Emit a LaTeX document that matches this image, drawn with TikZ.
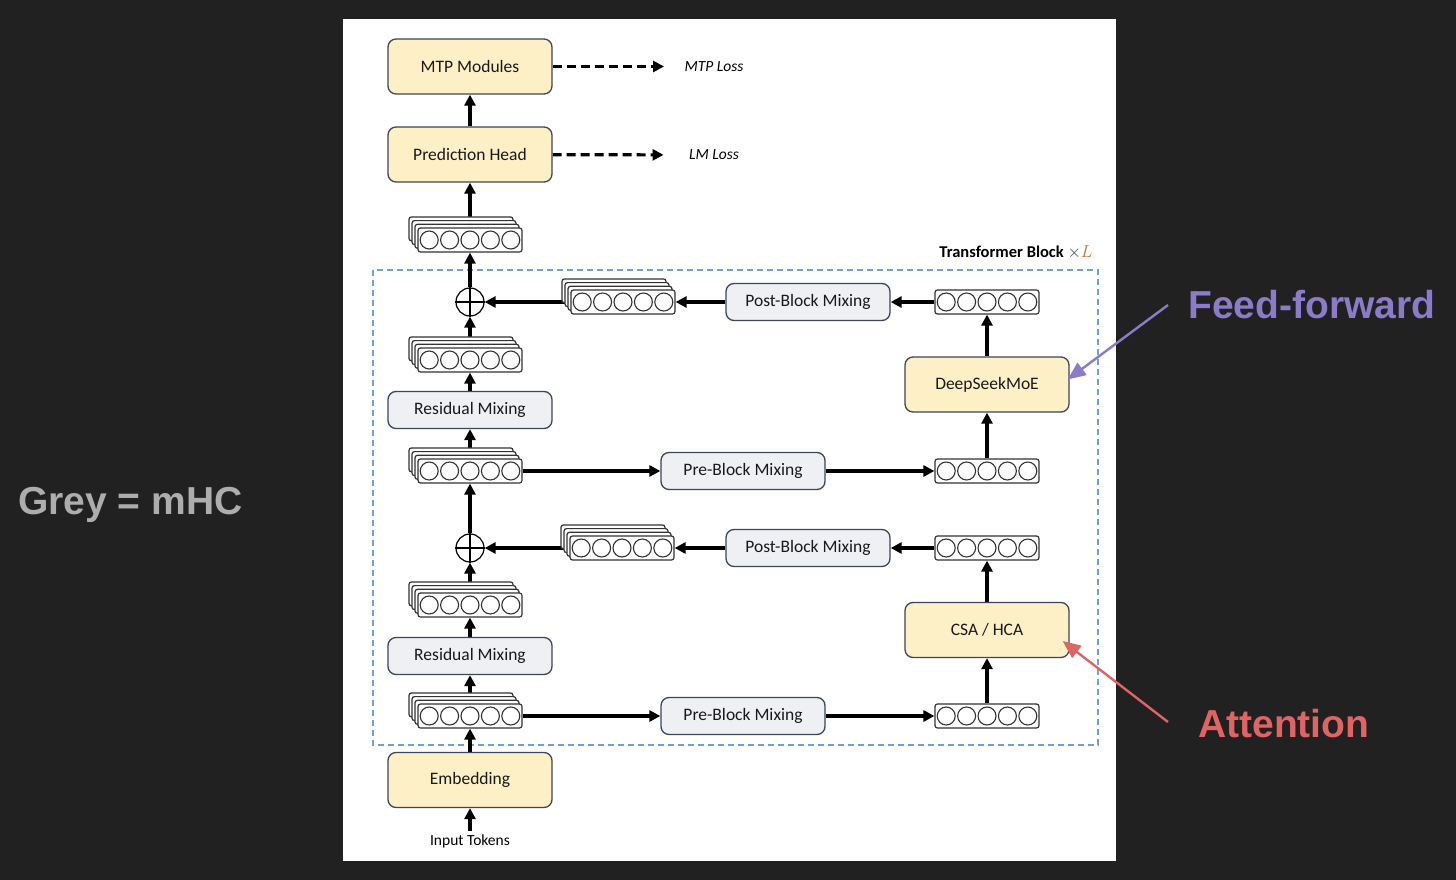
\documentclass[tikz,border=0pt]{standalone}
\usepackage{fontspec}
\setmainfont{Carlito}
\newfontfamily\annofont{Liberation Sans}
\usetikzlibrary{arrows.meta}

\definecolor{bgdark}{HTML}{212121}
\definecolor{coreyellow}{HTML}{FDF0C7}
\definecolor{mixgrey}{HTML}{EEF0F4}
\definecolor{boxline}{HTML}{3B4658}
\definecolor{blockblue}{HTML}{6FA1D9}
\definecolor{lcolor}{HTML}{C2702E}
\definecolor{ffpurple}{HTML}{8B7BC9}
\definecolor{attnred}{HTML}{E06464}
\definecolor{mhcgrey}{HTML}{ADADAD}

\pgfdeclarelayer{panel}
\pgfdeclarelayer{links}
\pgfsetlayers{panel,links,main}

\newcommand{\boxfont}{\fontsize{17.5}{20}\selectfont}

% one hidden-state vector: a box with five circles
\newcommand{\vecrow}[3]{%
  \node[vecbox] (#1) at (#2,#3) {};
  \foreach \k in {-2,...,2}
    \draw[line width=1.1pt,black!80] ([xshift=\k*20.4pt]#1.center) circle[radius=9pt];
}
% n parallel streams: three layers behind the front vector
\newcommand{\vecstack}[3]{%
  \foreach \s in {3,2,1}
    \node[vecbox] at (#2-3*\s,#3-3.7*\s) {};
  \vecrow{#1}{#2}{#3}
}

\begin{document}
\begin{tikzpicture}[x=1pt,y=-1pt,>={Triangle[length=11pt,width=11pt]},
    flow/.style={->,line width=3.4pt},
    loss/.style={->,line width=3.2pt,dash pattern=on 9pt off 5pt},
    core/.style={draw=boxline,fill=coreyellow,rounded corners=8pt,line width=1.3pt,
      minimum width=164pt,minimum height=55pt,font=\boxfont,text=black!90},
    mix/.style={core,fill=mixgrey,minimum height=37pt},
    vecbox/.style={draw=black!80,fill=white,rounded corners=2.5pt,line width=1.2pt,
      minimum width=104pt,minimum height=24pt,inner sep=0pt},
    plus/.style={circle,draw,fill=white,line width=1.2pt,minimum size=28pt,inner sep=0pt},
    anno/.style={font=\annofont\bfseries\fontsize{39}{44}\selectfont,inner sep=0pt,anchor=west},
    annoarrow/.style={-{Triangle[length=18pt,width=15pt]},line width=2.4pt}]

  \begin{pgfonlayer}{panel}
    \fill[bgdark] (0,0) rectangle (1456,880);
    \fill[white] (343,19) rectangle (1116,861);
    \draw[blockblue,line width=1.2pt,dash pattern=on 6pt off 4pt] (373,270) rectangle (1098,745);
  \end{pgfonlayer}

  % left column
  \node[core] (mtp) at (470,66.5) {MTP Modules};
  \node[core] (head) at (470,154.5) {Prediction Head};
  \vecstack{so}{470}{240}
  \node[plus] (sum1) at (470,302) {};
  \draw[line width=1.2pt] (sum1.north) -- (sum1.south) (sum1.west) -- (sum1.east);
  \vecstack{sa}{470}{360}
  \node[mix] (rmix1) at (470,410) {Residual Mixing};
  \vecstack{sb}{470}{471}
  \node[plus] (sum2) at (470,548) {};
  \draw[line width=1.2pt] (sum2.north) -- (sum2.south) (sum2.west) -- (sum2.east);
  \vecstack{sc}{470}{605}
  \node[mix] (rmix2) at (470,656) {Residual Mixing};
  \vecstack{sd}{470}{716}
  \node[core] (embed) at (470,780) {Embedding};
  \node[font=\fontsize{15.5}{18}\selectfont] (itok) at (470,841) {Input Tokens};

  \node[font=\itshape\fontsize{15.5}{18}\selectfont] (mtploss) at (714,66.5) {MTP Loss};
  \node[font=\itshape\fontsize{15.5}{18}\selectfont] (lmloss) at (714,155) {LM Loss};
  \node[anchor=base east,font=\bfseries\fontsize{16.5}{18}\selectfont] (blocklabel) at (1096,257)
    {Transformer Block {\color{black!75}$\times$}\textcolor{lcolor}{$L$}};

  % mixing boxes
  \vecstack{ps1}{623}{302}
  \node[mix] (post1) at (808,302) {Post-Block Mixing};
  \node[mix] (pre1) at (743,471) {Pre-Block Mixing};
  \vecstack{ps2}{622}{548}
  \node[mix] (post2) at (808,548) {Post-Block Mixing};
  \node[mix] (pre2) at (743,716) {Pre-Block Mixing};

  % right column
  \vecrow{fout}{987}{302}
  \node[core] (moe) at (987,384.5) {DeepSeekMoE};
  \vecrow{fin}{987}{471}
  \vecrow{aout}{987}{548}
  \node[core] (attn) at (987,630) {CSA / HCA};
  \vecrow{ain}{987}{716}

  % notes
  \node[anno,text=ffpurple] (fflabel) at (1188,305) {Feed-forward};
  \node[anno,text=attnred] (attnlabel) at (1198,724) {Attention};
  \node[anno,text=mhcgrey] (mhclabel) at (18,505) {Grey = mHC};

  \begin{pgfonlayer}{links}
    \draw[flow] (itok) -- (embed);
    \draw[flow] (embed) -- (sd);
    \draw[flow] (sd) -- (rmix2);
    \draw[flow] (rmix2) -- (sc);
    \draw[flow] (sc) -- (sum2);
    \draw[flow] (sum2) -- (sb);
    \draw[flow] (sb) -- (rmix1);
    \draw[flow] (rmix1) -- (sa);
    \draw[flow] (sa) -- (sum1);
    \draw[flow] (sum1) -- (so);
    \draw[flow] (so) -- (head);
    \draw[flow] (head) -- (mtp);
    \draw[loss,shorten >=17pt] (mtp) -- (mtploss);
    \draw[loss,shorten >=22pt] (head) -- (lmloss);

    \draw[flow] (sd) -- (pre2);
    \draw[flow] (pre2) -- (ain);
    \draw[flow] (ain) -- (attn);
    \draw[flow] (attn) -- (aout);
    \draw[flow] (aout) -- (post2);
    \draw[flow] (post2) -- (ps2);
    \draw[flow] (ps2) -- (sum2);

    \draw[flow] (sb) -- (pre1);
    \draw[flow] (pre1) -- (fin);
    \draw[flow] (fin) -- (moe);
    \draw[flow] (moe) -- (fout);
    \draw[flow] (fout) -- (post1);
    \draw[flow] (post1) -- (ps1);
    \draw[flow] (ps1) -- (sum1);
  \end{pgfonlayer}

  \draw[annoarrow,ffpurple] ([xshift=-20pt]fflabel.west) -- ([shift={(-2pt,5pt)}]moe.east);
  \draw[annoarrow,attnred] ([shift={(-30pt,2pt)}]attnlabel.west) -- ([shift={(-7pt,-11pt)}]attn.east);
\end{tikzpicture}
\end{document}
